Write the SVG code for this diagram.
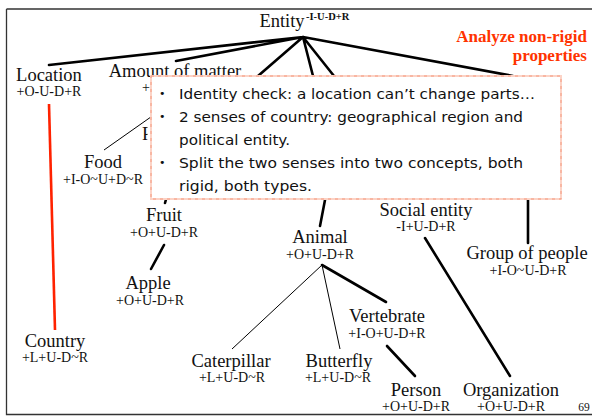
<svg xmlns="http://www.w3.org/2000/svg" width="592" height="416" viewBox="0 0 592 416">
<style>
.n{font-family:"Liberation Serif","Times New Roman",serif;font-size:18.5px;fill:#111;text-anchor:middle}
.s{font-family:"Liberation Serif","Times New Roman",serif;font-size:14px;fill:#111;text-anchor:middle}
.thick{stroke:#000;stroke-width:2.6;fill:none;stroke-linecap:round}
.thin{stroke:#000;stroke-width:1;fill:none}
.c{font-family:"DejaVu Sans","Comic Sans MS",sans-serif;font-size:14.5px;fill:#111}
.b{font-family:"DejaVu Sans",sans-serif;font-size:11px;fill:#111}
.red{font-family:"Liberation Serif","Times New Roman",serif;font-size:17px;font-weight:bold;fill:#ff3300;text-anchor:end}
</style>
<defs>
<clipPath id="leftOfCallout"><rect x="0" y="0" width="151" height="416"/></clipPath>
<clipPath id="stemOnly"><rect x="0" y="0" width="147.5" height="416"/></clipPath>
</defs>
<rect x="0" y="0" width="592" height="416" fill="#fff"/>
<g id="frame" stroke="#333" stroke-width="1.3" fill="none">
<path d="M6.5,9 H592 M6.5,9 V414.5 H592"/>
</g>
<g id="connectors">
<path class="thick" d="M303,37 L49,65 M303,37 L176,61 M303,37 L258,76 M303,37 L313,76 M303,37 L334,76 M303,37 L513,76"/>
<path d="M49,104 L55,330" stroke="#ff2200" stroke-width="2.6" fill="none"/>
<path class="thin" d="M104,150 L175,100"/>
<path class="thick" d="M165,203 L168,192"/>
<path class="thick" d="M164,245 L151,269"/>
<path class="thick" d="M325,200 L320,226"/>
<path class="thin" d="M322,265 L232,349 M322,265 L340,349"/>
<path class="thick" d="M322,265 L386,302"/>
<path class="thick" d="M387,346 L415,376"/>
<path class="thick" d="M425,238 L510,376"/>
<path class="thick" d="M528,199 L528,243"/>
</g>
<g id="entity"><text class="n" x="282" y="27">Entity</text><text x="306" y="20" font-family="Liberation Serif,serif" font-size="10.5" font-weight="bold" fill="#111">-I-U-D+R</text></g>
<g id="location"><text class="n" x="49" y="81">Location</text><text class="s" x="49" y="96">+O-U-D+R</text></g>
<g id="amount"><text class="n" x="175" y="77">Amount of matter</text><text x="142" y="92" clip-path="url(#leftOfCallout)" font-family="Liberation Serif,serif" font-size="14" fill="#111">+O</text></g>
<g id="physical"><text x="142" y="140" clip-path="url(#stemOnly)" font-family="Liberation Serif,serif" font-size="18.5" fill="#111">P</text></g>
<g id="food"><text class="n" x="103" y="168">Food</text><text class="s" x="103" y="184">+I-O~U+D~R</text></g>
<g id="fruit"><text class="n" x="164" y="221">Fruit</text><text class="s" x="164" y="237">+O+U-D+R</text></g>
<g id="apple"><text class="n" x="148" y="289">Apple</text><text class="s" x="150" y="305">+O+U-D+R</text></g>
<g id="country"><text class="n" x="55" y="347">Country</text><text class="s" x="55" y="362">+L+U-D~R</text></g>
<g id="animal"><text class="n" x="320" y="243">Animal</text><text class="s" x="320" y="259">+O+U-D+R</text></g>
<g id="caterpillar"><text class="n" x="231" y="367">Caterpillar</text><text class="s" x="232" y="382">+L+U-D~R</text></g>
<g id="butterfly"><text class="n" x="339" y="367">Butterfly</text><text class="s" x="338" y="382">+L+U-D~R</text></g>
<g id="vertebrate"><text class="n" x="387" y="322">Vertebrate</text><text class="s" x="387" y="338">+I-O+U-D+R</text></g>
<g id="person"><text class="n" x="416" y="396">Person</text><text class="s" x="416" y="411">+O+U-D+R</text></g>
<g id="organization"><text class="n" x="511" y="396">Organization</text><text class="s" x="511" y="411">+O+U-D+R</text></g>
<g id="social"><text class="n" x="426" y="216">Social entity</text><text class="s" x="426" y="231">-I+U-D+R</text></g>
<g id="group"><text class="n" x="527" y="259">Group of people</text><text class="s" x="528" y="275">+I-O~U-D+R</text></g>
<g id="note">
<text class="red" x="587" y="42">Analyze non-rigid</text>
<text class="red" x="587" y="61">properties</text>
</g>
<g id="callout">
<rect x="151" y="76" width="410" height="123" fill="#fff" stroke="#fcd3c6" stroke-width="2"/>
<rect x="151" y="76" width="410" height="123" fill="none" stroke="#f49a80" stroke-width="1" stroke-dasharray="3 4"/>
<text class="b" x="159" y="97">•</text>
<text class="b" x="159" y="120">•</text>
<text class="b" x="159" y="166">•</text>
<text class="c" x="179" y="99" textLength="356" lengthAdjust="spacingAndGlyphs">Identity check: a location can’t change parts…</text>
<text class="c" x="179" y="122" textLength="344" lengthAdjust="spacingAndGlyphs">2 senses of country: geographical region and</text>
<text class="c" x="179" y="145" textLength="111" lengthAdjust="spacingAndGlyphs">political entity.</text>
<text class="c" x="179" y="168" textLength="344" lengthAdjust="spacingAndGlyphs">Split the two senses into two concepts, both</text>
<text class="c" x="179" y="191" textLength="133" lengthAdjust="spacingAndGlyphs">rigid, both types.</text>
</g>
<text x="584" y="411" font-family="Liberation Serif,serif" font-size="11.5" fill="#111" text-anchor="middle">69</text>
</svg>
